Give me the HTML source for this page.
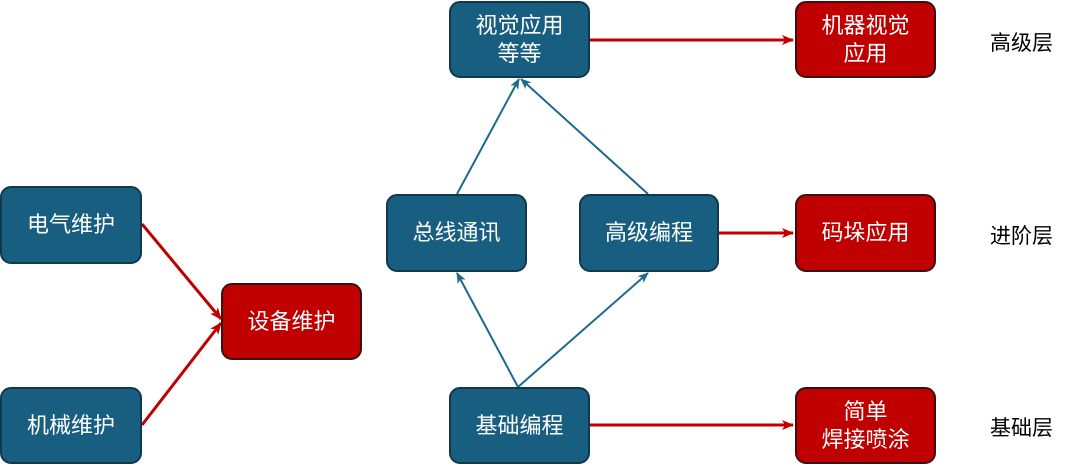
<!DOCTYPE html>
<html><head><meta charset="utf-8"><style>
body{margin:0;width:1080px;height:468px;background:#fff;position:relative;overflow:hidden;font-family:"Liberation Sans","Noto Sans CJK SC",sans-serif}
.b{position:absolute;box-sizing:border-box;border:2px solid #12384b;border-radius:11px;background:#175e80;color:#fff;font-size:22px;line-height:28px;display:flex;align-items:center;justify-content:center;text-align:center}
.r{background:#c00000;border-color:#3a1010}
.t{position:absolute;font-size:21px;color:#000}
svg{position:absolute;left:0;top:0}
</style></head><body>
<svg width="1080" height="468">
<defs>
<marker id="ar" markerWidth="12" markerHeight="10" refX="11" refY="5" orient="auto" markerUnits="userSpaceOnUse"><path d="M0,0 L12,5 L0,10 L3,5z" fill="#c00000"/></marker>
<marker id="ab" markerWidth="11" markerHeight="9" refX="10" refY="4.5" orient="auto" markerUnits="userSpaceOnUse"><path d="M0,0 L11,4.5 L0,9 L3,4.5z" fill="#1d6a8c"/></marker>
</defs>
<g stroke="#c00000" stroke-width="3" fill="none" marker-end="url(#ar)">
<line x1="590" y1="40" x2="793" y2="40"/>
<line x1="719" y1="233" x2="793" y2="233"/>
<line x1="590" y1="425" x2="793" y2="425"/>
<line x1="142" y1="224" x2="221" y2="319"/>
<line x1="142" y1="425" x2="221" y2="323"/>
</g>
<g stroke="#1d6a8c" stroke-width="2" fill="none" marker-end="url(#ab)">
<line x1="457" y1="194" x2="519" y2="79"/>
<line x1="648" y1="194" x2="521" y2="79"/>
<line x1="518" y1="387" x2="457" y2="273"/>
<line x1="518" y1="387" x2="648" y2="273"/>
</g>
</svg>
<div class="b" style="left:449px;top:1px;width:141px;height:77px">视觉应用<br>等等</div>
<div class="b r" style="left:795px;top:1px;width:141px;height:77px">机器视觉<br>应用</div>
<div class="b" style="left:0px;top:186px;width:142px;height:78px">电气维护</div>
<div class="b" style="left:386px;top:194px;width:141px;height:78px">总线通讯</div>
<div class="b" style="left:579px;top:194px;width:140px;height:78px">高级编程</div>
<div class="b r" style="left:795px;top:194px;width:141px;height:78px">码垛应用</div>
<div class="b r" style="left:221px;top:283px;width:141px;height:77px">设备维护</div>
<div class="b" style="left:0px;top:387px;width:142px;height:77px">机械维护</div>
<div class="b" style="left:449px;top:387px;width:141px;height:77px">基础编程</div>
<div class="b r" style="left:795px;top:387px;width:141px;height:77px">简单<br>焊接喷涂</div>
<div class="t" style="left:990px;top:27px">高级层</div>
<div class="t" style="left:990px;top:220px">进阶层</div>
<div class="t" style="left:990px;top:412px">基础层</div>
</body></html>
